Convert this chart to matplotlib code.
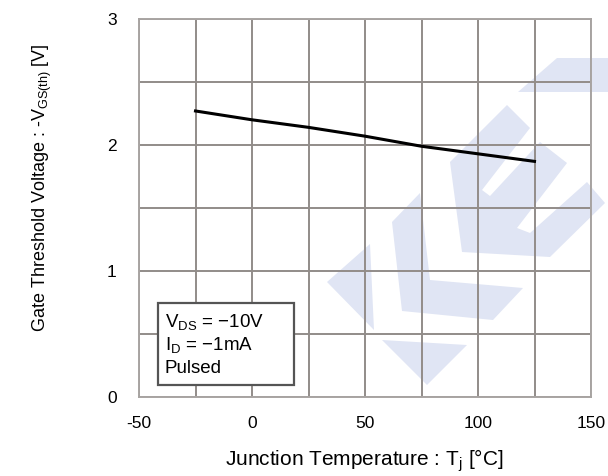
import matplotlib
matplotlib.use("Agg")
import matplotlib.pyplot as plt
from matplotlib.patches import Polygon, Rectangle

plt.rcParams["font.family"] = ["Liberation Sans", "DejaVu Sans"]
plt.rcParams["axes.unicode_minus"] = False

# Gate threshold voltage vs junction temperature
temperature = [-25, 0, 25, 50, 75, 100, 125]
vgs_th = [2.27, 2.20, 2.14, 2.07, 1.99, 1.93, 1.87]

x_ticks = [-50, 0, 50, 100, 150]
y_ticks = [0, 1, 2, 3]
conditions = ["V$_{\\mathregular{DS}}$ = \u221210V",
              "I$_{\\mathregular{D}}$ = \u22121mA",
              "Pulsed"]

W, H = 608, 476
fig = plt.figure(figsize=(W / 100, H / 100), dpi=100)
ax = fig.add_axes([139 / W, 1 - 397 / H, 452 / W, 378 / H])

# faint logo watermark behind the grid (figure pixel outlines)
logo = [
    [(518, 92), (557, 58), (608, 58), (608, 92)],
    [(327, 282), (370, 244), (374, 330)],
    [(382, 340), (467, 345), (427, 385)],
    [(392, 222), (420, 193), (430, 280), (523, 288), (493, 320), (402, 311)],
    [(450, 162), (507, 105), (530, 128), (482, 190), (490, 196), (540, 142),
     (567, 163), (517, 228), (530, 233), (587, 182), (605, 203), (550, 257),
     (462, 252)],
]
for shape in logo:
    pts = [(x / W, 1 - y / H) for x, y in shape]
    ax.add_patch(Polygon(pts, closed=True, transform=fig.transFigure,
                         facecolor="#e0e5f4", edgecolor="none",
                         clip_on=False, zorder=0.2))

grid_color = "#928c89"
ax.set_xlim(-50, 150)
ax.set_ylim(0, 3)
ax.set_xticks(x_ticks)
ax.set_yticks(y_ticks)
ax.set_xticks(range(-50, 151, 25), minor=True)
ax.set_yticks([i * 0.5 for i in range(7)], minor=True)
ax.grid(True, which="both", color=grid_color, linewidth=1.4, zorder=0.5)
ax.set_axisbelow(True)
ax.tick_params(which="both", length=0)
ax.tick_params(axis="x", pad=14, labelsize=12.5)
ax.tick_params(axis="y", pad=16, labelsize=12.5)
for sp in ax.spines.values():
    sp.set_color("#a8a4a2")
    sp.set_linewidth(1.4)

ax.plot(temperature, vgs_th, color="black", linewidth=2.2, zorder=3)

# measurement conditions box
ax.add_patch(Rectangle((19 / 452, 12 / 378), 136 / 452, 82 / 378,
                       transform=ax.transAxes, facecolor="white",
                       edgecolor="#555555", linewidth=1.6, zorder=4))
for i, txt in enumerate(conditions):
    ax.text(26 / 452, (397 - 328 - i * 22.5) / 378, txt,
            transform=ax.transAxes, fontsize=13.5, ha="left",
            va="baseline", zorder=5)

fig.text(364 / W, 1 - 461 / H, "Junction Temperature : T$_{\\mathregular{j}}$ [\u00b0C]",
         ha="center", va="center", fontsize=15)
fig.text(42 / W, 1 - 188 / H, "Gate Threshold Voltage : -V$_{\\mathregular{GS(th)}}$ [V]",
         ha="center", va="center", rotation=90, fontsize=13)

fig.savefig("out.png", dpi=100)
